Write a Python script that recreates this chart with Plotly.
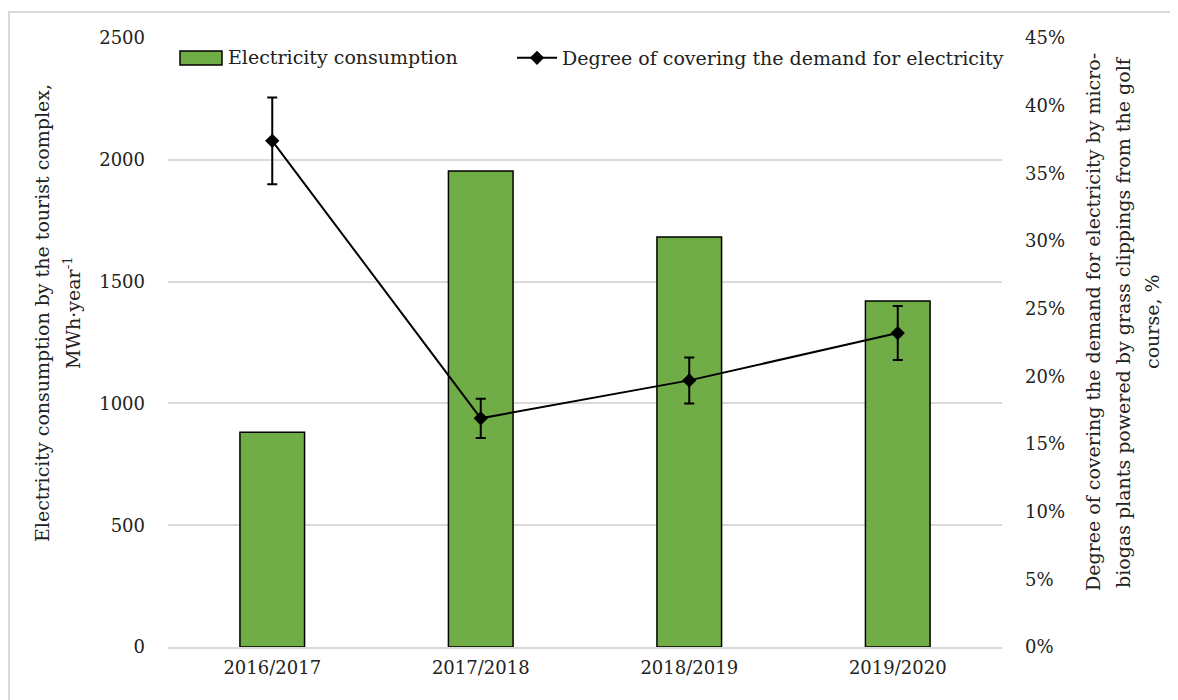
import plotly.graph_objects as go

seasons = ["2016/2017", "2017/2018", "2018/2019", "2019/2020"]
consumption = [882, 1954, 1683, 1420]          # MWh/year
coverage = [37.4, 16.9, 19.7, 23.2]            # %
coverage_err = [3.2, 1.45, 1.7, 2.0]           # %

FONT = "DejaVu Serif"
FS = 18      # tick labels
FT = 19      # titles / legend
OFF = 8                      # browser body margin
W, H = 1178 - OFF, 700 - OFF
PL, PR, PT, PB = 168, 1002, 38, 647   # plot area in page pixels
ML, MT = PL - OFF, PT - OFF
MR = W - (PR - OFF)
MB = H - (PB - OFF)
pw, ph = PR - PL, PB - PT


def px(x):  # page x -> paper
    return (x - PL) / pw


def py(y):  # page y -> paper
    return (PB - y) / ph


fig = go.Figure()
fig.add_trace(go.Bar(
    x=seasons, y=consumption, name="Electricity consumption",
    marker=dict(color="#70AD47", line=dict(color="black", width=1.5)),
    width=0.31, yaxis="y", showlegend=False,
))
fig.add_trace(go.Scatter(
    x=seasons, y=coverage, name="Degree of covering the demand for electricity",
    mode="lines+markers", yaxis="y2",
    line=dict(color="black", width=2),
    marker=dict(symbol="diamond", size=11, color="black"),
    error_y=dict(type="data", array=coverage_err, visible=True,
                 color="black", thickness=2, width=5),
))

# outer frame
fig.add_shape(type="rect", xref="paper", yref="paper",
              x0=px(9), x1=px(1190), y0=py(712), y1=py(12),
              line=dict(color="#d9d9d9", width=2), fillcolor="rgba(0,0,0,0)", layer="below")

# custom legend entry for bars
fig.add_shape(type="rect", xref="paper", yref="paper",
              x0=px(180), x1=px(222), y0=py(65), y1=py(51),
              line=dict(color="black", width=1.5), fillcolor="#70AD47")
fig.add_annotation(xref="paper", yref="paper", x=px(226), y=py(57),
                   xanchor="left", yanchor="middle", showarrow=False,
                   text="Electricity consumption", font=dict(size=FT, family=FONT, color="#222"))

# axis titles (one annotation per line)
left_lines = ["Electricity consumption by the tourist complex,", "MWh·year<sup>-1</sup>"]
left_x = [42, 72]
for t, xx in zip(left_lines, left_x):
    fig.add_annotation(xref="paper", yref="paper", x=px(xx), y=py(313),
                       xanchor="center", yanchor="middle", textangle=-90, showarrow=False,
                       text=t, font=dict(size=FT, family=FONT, color="#222"))
right_lines = ["Degree of covering the demand for electricity by micro-",
               "biogas plants powered by grass clippings from the golf",
               "course, %"]
right_x = [1093, 1123, 1152]
for t, xx in zip(right_lines, right_x):
    fig.add_annotation(xref="paper", yref="paper", x=px(xx), y=py(322),
                       xanchor="center", yanchor="middle", textangle=-90, showarrow=False,
                       text=t, font=dict(size=FT, family=FONT, color="#222"))

fig.update_layout(
    width=W, height=H,
    margin=dict(l=ML, r=MR, t=MT, b=MB, autoexpand=False),
    paper_bgcolor="white", plot_bgcolor="white",
    font=dict(family=FONT, size=FS, color="#222"),
    xaxis=dict(showline=True, linecolor="#d9d9d9", linewidth=2, ticks="",
               ticklabelstandoff=3, automargin=False),
    yaxis=dict(range=[0, 2500], dtick=500, showgrid=True, gridcolor="#d9d9d9", gridwidth=1.5,
               zeroline=False, showline=False, ticks="", ticklabelstandoff=22, automargin=False),
    yaxis2=dict(range=[0, 45], dtick=5, overlaying="y", side="right", showgrid=False,
                zeroline=False, ticksuffix="%", ticks="", ticklabelstandoff=22, automargin=False),
    legend=dict(orientation="h", x=px(512), y=py(39), xanchor="left", yanchor="top",
                itemwidth=40, font=dict(size=FT), bgcolor="rgba(0,0,0,0)"),
)

fig.write_html("out.html")
